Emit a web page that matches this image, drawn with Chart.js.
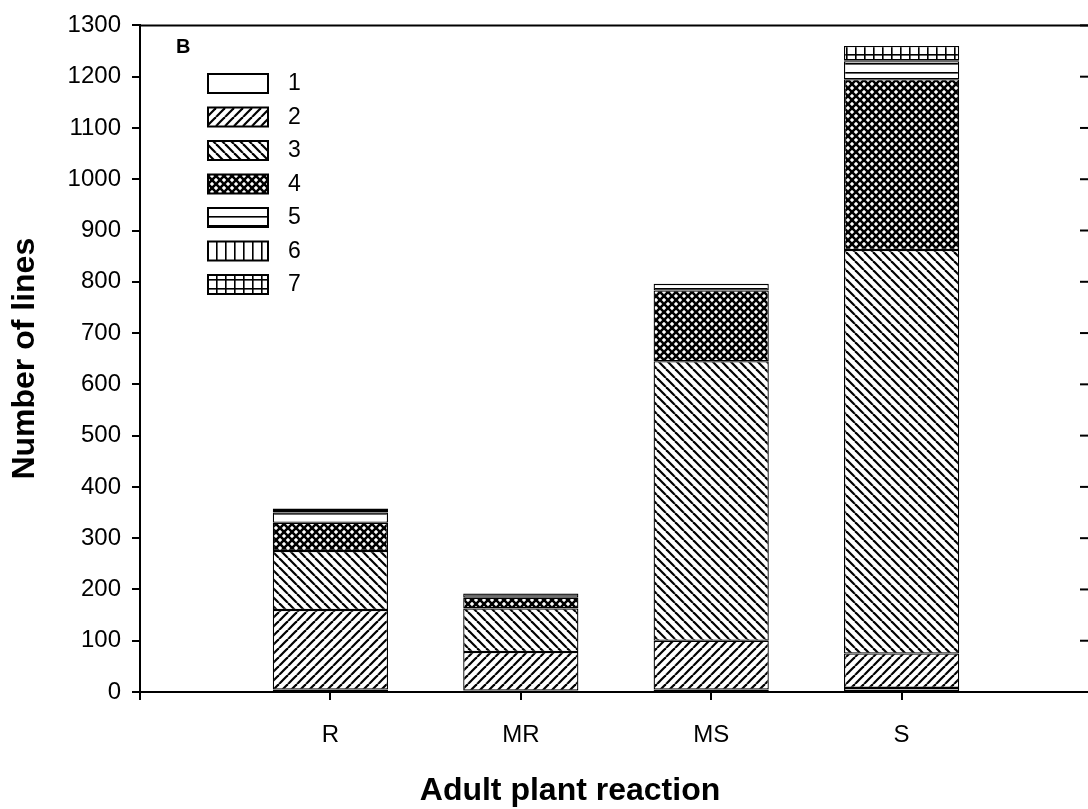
<!DOCTYPE html>
<html>
<head>
<meta charset="utf-8">
<script src="https://cdn.jsdelivr.net/npm/chart.js@4.4.1/dist/chart.umd.min.js"></script>
<style>
  html, body { margin: 0; padding: 0; background: #fff; overflow: hidden; }
  canvas { display: block; }
</style>
</head>
<body>
<canvas id="chart" width="1092" height="809"></canvas>
<script>
// categories (blank slots at each end keep the bars spaced like the original axis)
const categories = ['', 'R', 'MR', 'MS', 'S', ''];
const classLabels = ['1', '2', '3', '4', '5', '6', '7'];

// number of lines per class, stacked within each reaction group
const class1 = [null, 5, 3, 5, 8, null];
const class2 = [null, 155, 75, 95, 67, null];
const class3 = [null, 115, 85, 545, 787, null];
const class4 = [null, 55, 21, 138, 333, null];
const class5 = [null, 20, 8, 13, 35, null];
const class6 = [null, 3, 0, 0, 2, null];
const class7 = [null, 5, 0, 0, 28, null];

const yTicks = { min: 0, max: 1300, step: 100 };
const xTitle = 'Adult plant reaction';

const FONT = "'Liberation Sans', Arial, sans-serif";

// hatch fills drawn into small tiles
function makePattern(kind) {
    if (kind === 'white') return '#fff';
    const s = kind === 'cross' ? 8 : 9;
    const c = document.createElement('canvas');
    c.width = s; c.height = s;
    const g = c.getContext('2d');
    g.fillStyle = '#fff';
    g.fillRect(0, 0, s, s);
    g.strokeStyle = '#000';
    g.fillStyle = '#000';
    g.lineWidth = 2.2;
    const slash = () => {
        for (let k = 0; k <= 2; k++) {
            g.beginPath(); g.moveTo(k * s, 0); g.lineTo(k * s - s, s); g.stroke();
        }
    };
    const back = () => {
        for (let k = -1; k <= 1; k++) {
            g.beginPath(); g.moveTo(k * s, 0); g.lineTo(k * s + s, s); g.stroke();
        }
    };
    if (kind === 'slash') slash();
    if (kind === 'back') back();
    if (kind === 'cross') { g.lineWidth = 2.6; slash(); back(); }
    if (kind === 'horiz') g.fillRect(0, 0, s, 1.6);
    if (kind === 'vert') g.fillRect(0, 0, 1.6, s);
    if (kind === 'grid') { g.fillRect(0, 0, 1.6, s); g.fillRect(0, 0, s, 1.6); }
    return g.createPattern(c, 'repeat');
}

const fills = ['white', 'slash', 'back', 'cross', 'horiz', 'vert', 'grid'].map(makePattern);
const series = [class1, class2, class3, class4, class5, class6, class7];

// legend inside the plot, top left
const insideLegend = {
    id: 'insideLegend',
    afterDraw(chart) {
        const ctx = chart.ctx;
        ctx.save();
        ctx.fillStyle = '#000';
        ctx.font = `bold 20px ${FONT}`;
        ctx.textBaseline = 'middle';
        ctx.fillText('B', 176, 47);
        ctx.font = `23px ${FONT}`;
        chart.data.datasets.forEach((ds, i) => {
            const y = 74 + i * 33.5;
            ctx.fillStyle = ds.backgroundColor;
            ctx.fillRect(208, y, 60, 19);
            ctx.lineWidth = 2;
            ctx.strokeStyle = '#000';
            ctx.strokeRect(208, y, 60, 19);
            ctx.fillStyle = '#000';
            ctx.fillText(ds.label, 288, y + 10);
        });
        ctx.restore();
    }
};

// top edge, right edge, inward ticks on the right side, x axis title
const frame = {
    id: 'frame',
    afterDraw(chart) {
        const { ctx, chartArea } = chart;
        const yScale = chart.scales.y;
        ctx.save();
        ctx.strokeStyle = '#000';
        ctx.lineWidth = 2;
        ctx.beginPath();
        ctx.moveTo(chartArea.left, chartArea.top);
        ctx.lineTo(chartArea.right, chartArea.top);
        ctx.lineTo(chartArea.right, chartArea.bottom);
        ctx.stroke();
        yScale.ticks.forEach(t => {
            const py = yScale.getPixelForValue(t.value);
            ctx.beginPath();
            ctx.moveTo(chartArea.right - 12, py);
            ctx.lineTo(chartArea.right, py);
            ctx.stroke();
        });
        ctx.fillStyle = '#000';
        ctx.font = `bold 32px ${FONT}`;
        ctx.textAlign = 'center';
        ctx.textBaseline = 'middle';
        ctx.fillText(xTitle, 570, 791);
        ctx.restore();
    }
};

new Chart(document.getElementById('chart').getContext('2d'), {
    type: 'bar',
    data: {
        labels: categories,
        datasets: series.map((data, i) => ({
            label: classLabels[i],
            data,
            backgroundColor: fills[i],
            borderColor: '#000',
            borderWidth: 1.3,
            borderSkipped: false,
            barPercentage: 0.605,
            categoryPercentage: 1
        }))
    },
    options: {
        responsive: false,
        animation: false,
        layout: { padding: { top: 21, right: 0, left: 0, bottom: 0 } },
        plugins: {
            legend: { display: false },
            tooltip: { enabled: false }
        },
        scales: {
            x: {
                stacked: true,
                offset: false,
                afterFit(scale) {
                    scale.height = 117;
                    scale.paddingLeft = 0;
                    scale.paddingRight = 0;
                },
                grid: { offset: false, drawOnChartArea: false, tickLength: 8, color: '#000', lineWidth: 2 },
                border: { color: '#000', width: 2 },
                ticks: { color: '#000', padding: 21, font: { family: FONT, size: 24 }, maxRotation: 0 }
            },
            y: {
                stacked: true,
                min: yTicks.min,
                max: yTicks.max,
                afterFit(scale) { scale.width = 140; },
                grid: { drawOnChartArea: false, tickLength: 8, color: '#000', lineWidth: 2 },
                border: { color: '#000', width: 2 },
                ticks: {
                    stepSize: yTicks.step,
                    color: '#000',
                    padding: 11,
                    font: { family: FONT, size: 24 },
                    callback: v => String(v)
                },
                title: {
                    display: true,
                    text: 'Number of lines',
                    color: '#000',
                    font: { family: FONT, size: 32, weight: 'bold' },
                    padding: { top: 6, bottom: 0 }
                }
            }
        }
    },
    plugins: [insideLegend, frame]
});
</script>
</body>
</html>
